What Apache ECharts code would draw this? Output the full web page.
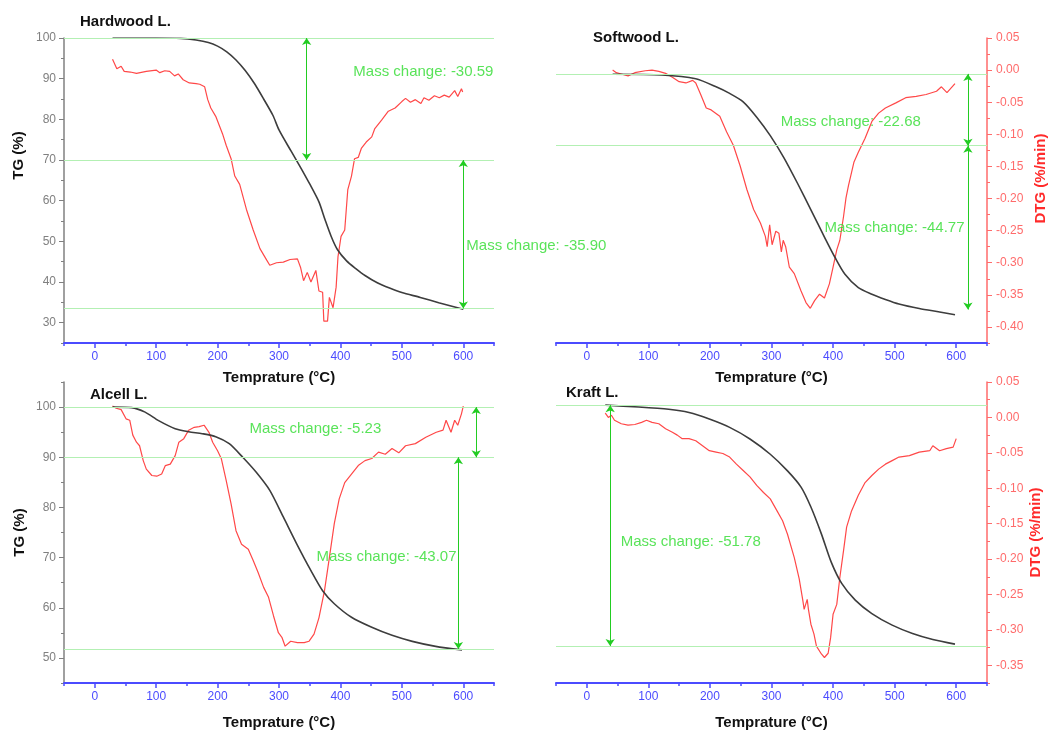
<!DOCTYPE html>
<html>
<head>
<meta charset="utf-8">
<script src="https://cdn.jsdelivr.net/npm/echarts@6/dist/echarts.min.js"></script>
<style>html,body{margin:0;padding:0;background:#fff}#c{width:1050px;height:731px}</style>
</head>
<body>
<div id="c"></div>
<script>
// ---------------- DATA ----------------
const panelTitles = ['Hardwood L.', 'Softwood L.', 'Alcell L.', 'Kraft L.'];
const xName = 'Temprature (\u00B0C)';
const tgName = 'TG (%)';
const dtgName = 'DTG (%/min)';
const xMajorTicks = [0, 100, 200, 300, 400, 500, 600];

// Hardwood L.
const hwTgT = [29,100,140,165,185,200,215,230,245,260,275,290,300,320,335,350,365,375,385,395,410,425,440,460,480,500,530,560,600];
const hwTg  = [100,100,99.9,99.5,98.9,98.0,96.6,94.6,92.0,88.8,85.0,81.0,77.4,72.1,68.2,64.1,59.7,55.3,51.2,48.0,45.2,43.3,41.6,39.8,38.5,37.4,36.2,34.9,33.3];
const hwDtgT = [29,36,43,48,58,68,84,100,106,114,122,130,136,144,154,165,171,179,184,189,197,208,214,222,228,236,247,258,269,280,285,296,307,318,330,335,340,346,352,360,365,371,373,379,382,388,393,396,401,407,412,418,423,429,434,442,451,456,467,478,489,500,506,514,522,531,536,544,553,561,569,577,586,591,597,599];
const hwDtg  = [0.017,0.002,0.006,-0.002,-0.003,-0.005,-0.002,0.000,-0.004,-0.001,-0.002,-0.009,-0.006,-0.015,-0.020,-0.021,-0.022,-0.026,-0.046,-0.059,-0.072,-0.099,-0.117,-0.138,-0.165,-0.178,-0.217,-0.249,-0.278,-0.296,-0.304,-0.300,-0.299,-0.295,-0.294,-0.307,-0.328,-0.315,-0.330,-0.312,-0.344,-0.346,-0.391,-0.391,-0.354,-0.370,-0.338,-0.291,-0.259,-0.249,-0.186,-0.165,-0.138,-0.136,-0.122,-0.112,-0.104,-0.091,-0.078,-0.064,-0.059,-0.049,-0.044,-0.050,-0.046,-0.052,-0.043,-0.047,-0.040,-0.043,-0.039,-0.042,-0.032,-0.041,-0.029,-0.034];
const hwTgTicks = [30, 40, 50, 60, 70, 80, 90, 100];
const hwLevels = [100, 70, 33.5];
const hwArrowT = [345, 600];
const hwArrowFrom = [100, 70];
const hwArrowTo = [70, 33.5];
const hwNoteText = ['Mass change: -30.59', 'Mass change: -35.90'];
const hwNoteT = [421, 605];
const hwNoteV = [91.7, 49.0];

// Softwood L.
const swTgT = [42,122,177,210,232,254,276,298,320,342,364,386,403,419,441,463,485,507,540,573,598];
const swTg  = [100.1,99.9,98.8,96.5,94.6,92.2,87.8,82.5,76.2,68.9,61.2,53.4,47.6,42.8,38.9,37.0,35.5,34.2,32.9,31.9,31.1];
const swDtgT = [42,48,56,67,78,95,106,117,128,139,150,161,172,177,185,194,202,216,227,238,249,260,271,282,290,293,297,301,307,312,316,319,323,329,337,348,356,363,370,378,386,394,400,406,411,417,421,425,434,441,452,463,474,485,502,518,535,551,568,576,585,598];
const swDtg  = [0.000,-0.004,-0.006,-0.009,-0.004,-0.001,0.000,-0.002,-0.005,-0.011,-0.018,-0.020,-0.016,-0.020,-0.038,-0.059,-0.062,-0.072,-0.096,-0.117,-0.149,-0.186,-0.217,-0.238,-0.259,-0.275,-0.241,-0.272,-0.251,-0.254,-0.283,-0.265,-0.275,-0.307,-0.317,-0.344,-0.362,-0.371,-0.359,-0.349,-0.355,-0.333,-0.307,-0.280,-0.265,-0.228,-0.199,-0.180,-0.143,-0.128,-0.106,-0.080,-0.067,-0.059,-0.051,-0.043,-0.041,-0.038,-0.033,-0.026,-0.035,-0.021];
const swDtgTicks = [-0.40, -0.35, -0.30, -0.25, -0.20, -0.15, -0.10, -0.05, 0.00, 0.05];
const swLevels = [100.2, 79.6];
const swArrowT = [619, 619];
const swArrowFrom = [100.2, 79.6];
const swArrowTo = [79.6, 32.6];
const swNoteText = ['Mass change: -22.68', 'Mass change: -44.77'];
const swNoteT = [315, 386];
const swNoteV = [86.5, 55.9];

// Alcell L.
const alTgT = [29,60,82,104,131,153,175,197,219,241,263,285,307,329,352,371,390,418,451,484,517,555,598];
const alTg  = [100,99.9,99.0,97.3,95.7,95.1,94.7,94.1,92.7,90.0,87.0,83.4,78.1,72.7,67.4,63.4,60.8,58.1,56.1,54.5,53.3,52.3,51.6];
const alDtgT = [29,35,43,51,57,62,68,73,79,84,93,101,109,115,123,131,137,145,153,162,170,178,186,192,200,206,214,222,230,239,250,258,266,275,283,291,299,305,310,319,330,341,349,357,365,374,382,390,398,407,418,429,440,451,462,473,484,495,506,522,539,556,567,572,580,586,591,597,600];
const alDtg  = [0.016,0.013,0.011,-0.002,-0.004,-0.025,-0.035,-0.040,-0.061,-0.073,-0.082,-0.083,-0.080,-0.068,-0.066,-0.054,-0.035,-0.030,-0.018,-0.014,-0.013,-0.011,-0.021,-0.035,-0.047,-0.058,-0.089,-0.122,-0.160,-0.179,-0.186,-0.202,-0.219,-0.240,-0.254,-0.280,-0.304,-0.311,-0.323,-0.316,-0.318,-0.318,-0.316,-0.306,-0.283,-0.245,-0.198,-0.150,-0.115,-0.092,-0.080,-0.068,-0.061,-0.058,-0.049,-0.052,-0.044,-0.050,-0.040,-0.037,-0.028,-0.021,-0.018,-0.004,-0.021,-0.004,-0.011,0.005,0.016];
const alTgTicks = [50, 60, 70, 80, 90, 100];
const alLevels = [100, 90, 51.8];
const alArrowT = [621, 592];
const alArrowFrom = [100, 90];
const alArrowTo = [90, 51.8];
const alNoteText = ['Mass change: -5.23', 'Mass change: -43.07'];
const alNoteT = [252, 361];
const alNoteV = [95.7, 70.1];

// Kraft L.
const krTgT = [30,84,133,166,199,232,265,298,326,348,364,381,397,414,436,463,496,529,562,598];
const krTg  = [100.0,99.6,99.1,98.4,97.0,95.2,92.7,89.4,85.8,82.3,78.0,72.2,66.1,61.5,57.9,55.0,52.5,50.7,49.4,48.4];
const krDtgT = [30,35,40,45,56,67,78,89,97,106,117,128,139,147,155,166,177,188,199,210,221,232,243,254,265,276,287,298,309,318,326,337,345,351,353,358,360,364,369,373,376,381,386,392,396,400,406,411,417,422,430,441,452,463,474,485,496,507,524,540,557,562,573,584,595,600];
const krDtg  = [0.006,0.000,0.003,-0.004,-0.009,-0.011,-0.010,-0.007,-0.004,-0.007,-0.009,-0.016,-0.021,-0.025,-0.030,-0.030,-0.033,-0.040,-0.047,-0.049,-0.051,-0.056,-0.066,-0.075,-0.084,-0.096,-0.106,-0.115,-0.132,-0.146,-0.165,-0.198,-0.228,-0.259,-0.271,-0.257,-0.271,-0.292,-0.306,-0.323,-0.325,-0.334,-0.339,-0.333,-0.311,-0.278,-0.264,-0.226,-0.188,-0.155,-0.132,-0.110,-0.092,-0.082,-0.073,-0.066,-0.061,-0.056,-0.054,-0.049,-0.047,-0.040,-0.047,-0.044,-0.042,-0.030];
const krDtgTicks = [-0.35, -0.30, -0.25, -0.20, -0.15, -0.10, -0.05, 0.00, 0.05];
const krLevels = [100.0, 48.0];
const krArrowT = [38];
const krArrowFrom = [100.0];
const krArrowTo = [48.0];
const krNoteText = ['Mass change: -51.78'];
const krNoteT = [55];
const krNoteV = [70.4];

// ---------------- STYLE ----------------
const FONT = "'Liberation Sans', Arial, sans-serif";
const BLUE = '#4b4bff';
const RED_AX = '#ff6b6b';
const RED = '#ff4848';
const GRAY = '#808080';
const INK = '#3d3d3d';
const GREEN_TXT = '#2fdc2f';
const GREEN_ARR = '#22cc22';
const GREEN_LVL = '#b3f0b3';

const zip = (a, b) => a.map((v, i) => [v, b[i]]);

const panels = [
  {tgT: hwTgT, tg: hwTg, dT: hwDtgT, d: hwDtg, lv: hwLevels, aT: hwArrowT, aF: hwArrowFrom, aTo: hwArrowTo, nTx: hwNoteText, nT: hwNoteT, nV: hwNoteV},
  {tgT: swTgT, tg: swTg, dT: swDtgT, d: swDtg, lv: swLevels, aT: swArrowT, aF: swArrowFrom, aTo: swArrowTo, nTx: swNoteText, nT: swNoteT, nV: swNoteV},
  {tgT: alTgT, tg: alTg, dT: alDtgT, d: alDtg, lv: alLevels, aT: alArrowT, aF: alArrowFrom, aTo: alArrowTo, nTx: alNoteText, nT: alNoteT, nV: alNoteV},
  {tgT: krTgT, tg: krTg, dT: krDtgT, d: krDtg, lv: krLevels, aT: krArrowT, aF: krArrowFrom, aTo: krArrowTo, nTx: krNoteText, nT: krNoteT, nV: krNoteV}
];

const grids = [
  {left: 64, top: 38, width: 430, height: 305},
  {left: 556, top: 38, width: 431, height: 305},
  {left: 64, top: 382, width: 430, height: 305},
  {left: 556, top: 382, width: 431, height: 305}
];

// main x axes (short ticks every 50, labels at hundreds)
const xAxes = [0, 1, 2, 3].map(i => ({
  type: 'value', gridIndex: i, position: 'bottom', min: -50, max: 650, interval: 50,
  name: xName, nameLocation: 'middle', nameGap: i < 2 ? 27 : 32,
  nameTextStyle: {fontFamily: FONT, fontWeight: 'bold', fontSize: 15, color: '#111'},
  axisLine: {onZero: false, lineStyle: {color: BLUE, width: 2}},
  axisTick: {length: 3, lineStyle: {color: BLUE, width: 1.5}},
  axisLabel: {color: BLUE, fontSize: 12, fontFamily: FONT, margin: 8,
    formatter: v => (Math.round(v) % 100 === 0 ? String(Math.round(v)) : '')},
  splitLine: {show: false}
}));
// overlay x axes carrying the longer major ticks
[0, 1, 2, 3].forEach(i => xAxes.push({
  type: 'value', gridIndex: i, position: 'bottom', min: -50, max: 650, interval: 50,
  axisLine: {show: false, onZero: false},
  axisTick: {show: true, length: 5, customValues: xMajorTicks, lineStyle: {color: BLUE, width: 1.5}},
  axisLabel: {show: false}, splitLine: {show: false}
}));

const tgFmt = v => (Math.round(v) % 10 === 0 ? String(Math.round(v)) : '');
const dtgFmt = v => {
  const k = Math.round(v / 0.05);
  return Math.abs(k * 0.05 - v) < 1e-6 ? (k * 0.05 + 0).toFixed(2).replace('-0.00', '0.00') : '';
};

function tgAxis(grid, min, max, padLeft, gap) {
  return {
    type: 'value', gridIndex: grid, position: 'left', min: min, max: max, interval: 5,
    name: tgName, nameLocation: 'middle', nameGap: gap,
    nameTextStyle: {fontFamily: FONT, fontWeight: 'bold', fontSize: 15, color: '#111', padding: [0, 0, 0, padLeft]},
    axisLine: {show: true, onZero: false, lineStyle: {color: GRAY, width: 1.5}},
    axisTick: {show: true, length: 3, lineStyle: {color: GRAY}},
    axisLabel: {color: GRAY, fontSize: 12, fontFamily: FONT, margin: 8, formatter: tgFmt},
    splitLine: {show: false}
  };
}
function dtgAxis(grid, min, max, padLeft, gap) {
  return {
    type: 'value', gridIndex: grid, position: 'right', min: min, max: max, interval: 0.025,
    name: dtgName, nameLocation: 'middle', nameGap: gap,
    nameTextStyle: {fontFamily: FONT, fontWeight: 'bold', fontSize: 15, color: '#ff2a2a', padding: [0, 0, 0, padLeft]},
    axisLine: {show: true, onZero: false, lineStyle: {color: RED_AX, width: 1.5}},
    axisTick: {show: true, length: 3, lineStyle: {color: RED_AX}},
    axisLabel: {color: RED_AX, fontSize: 12, fontFamily: FONT, margin: 9, formatter: dtgFmt},
    splitLine: {show: false}
  };
}
function hiddenAxis(grid, min, max, pos) {
  return {type: 'value', gridIndex: grid, position: pos, min: min, max: max, show: false, splitLine: {show: false}};
}
function majorTickAxis(grid, min, max, pos, ticks, color) {
  return {
    type: 'value', gridIndex: grid, position: pos, min: min, max: max,
    axisLine: {show: false, onZero: false},
    axisTick: {show: true, length: 5, customValues: ticks, lineStyle: {color: color}},
    axisLabel: {show: false}, splitLine: {show: false}
  };
}

const yAxes = [
  tgAxis(0, 25, 100, 70, 38),            // 0: Hardwood TG
  hiddenAxis(0, -0.425, 0.05, 'right'),  // 1: Hardwood DTG
  dtgAxis(1, -0.425, 0.05, 24, 46),      // 2: Softwood DTG
  hiddenAxis(1, 23, 110.5, 'left'),      // 3: Softwood TG
  tgAxis(2, 45, 105, 0, 37),             // 4: Alcell TG
  hiddenAxis(2, -0.375, 0.05, 'right'),  // 5: Alcell DTG
  dtgAxis(3, -0.375, 0.05, 0, 41),       // 6: Kraft DTG
  hiddenAxis(3, 40, 105, 'left'),        // 7: Kraft TG
  majorTickAxis(0, 25, 100, 'left', hwTgTicks, GRAY),
  majorTickAxis(1, -0.425, 0.05, 'right', swDtgTicks, RED_AX),
  majorTickAxis(2, 45, 105, 'left', alTgTicks, GRAY),
  majorTickAxis(3, -0.375, 0.05, 'right', krDtgTicks, RED_AX)
];
const tgIdx = [0, 3, 4, 7];
const dtgIdx = [1, 2, 5, 6];

const series = [];
panels.forEach((p, i) => {
  series.push({
    type: 'line', xAxisIndex: i, yAxisIndex: dtgIdx[i], data: zip(p.dT, p.d),
    symbol: 'none', lineStyle: {color: RED, width: 1.2}, z: 2, silent: true
  });
  const ml = [];
  p.lv.forEach(v => ml.push({yAxis: v, symbol: 'none', lineStyle: {color: GREEN_LVL, width: 1, type: 'solid'}}));
  p.aT.forEach((t, k) => ml.push([
    {coord: [t, p.aF[k]], symbol: 'arrow', symbolSize: 7, lineStyle: {color: GREEN_ARR, width: 1, type: 'solid'}},
    {coord: [t, p.aTo[k]], symbol: 'arrow', symbolSize: 7, lineStyle: {color: GREEN_ARR, width: 1, type: 'solid'}}
  ]));
  series.push({
    type: 'line', xAxisIndex: i, yAxisIndex: tgIdx[i], data: zip(p.tgT, p.tg),
    symbol: 'none', smooth: 0.25,
    lineStyle: {color: INK, width: 1.6}, z: 3, silent: true,
    markLine: {silent: true, symbol: ['none', 'none'], label: {show: false}, animation: false,
      emphasis: {disabled: true}, data: ml}
  });
  series.push({
    type: 'scatter', xAxisIndex: i, yAxisIndex: tgIdx[i], symbolSize: 0, silent: true, z: 5,
    data: p.nTx.map((txt, k) => ({name: txt, value: [p.nT[k], p.nV[k]]})),
    label: {show: true, position: 'right', distance: 0, formatter: '{b}', color: GREEN_TXT,
      fontSize: 15, fontFamily: FONT}
  });
});

const titlePos = [[80, 14], [593, 30], [90, 387], [566, 385]];
const titles = panelTitles.map((t, i) => ({
  text: t, left: titlePos[i][0], top: titlePos[i][1], padding: 0,
  textStyle: {fontFamily: FONT, fontSize: 15, fontWeight: 'bold', color: '#111'}
}));

const chart = echarts.init(document.getElementById('c'), null, {renderer: 'canvas'});
chart.setOption({
  animation: false,
  backgroundColor: '#ffffff',
  textStyle: {fontFamily: FONT},
  title: titles,
  grid: grids,
  xAxis: xAxes,
  yAxis: yAxes,
  series: series
});
</script>
</body>
</html>
